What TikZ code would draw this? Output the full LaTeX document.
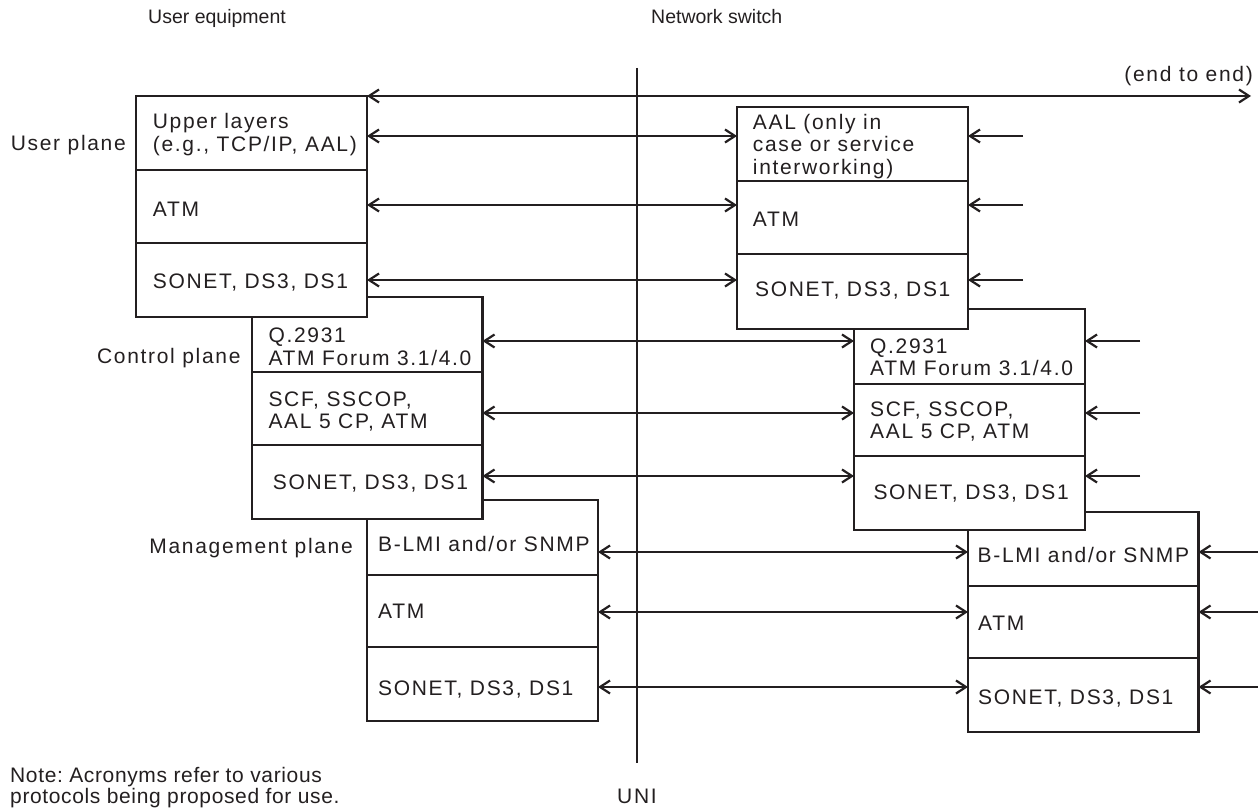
\documentclass[tikz,border=0pt]{standalone}
\usepackage{fontspec}
\setmainfont{Liberation Sans}[LetterSpace=8]
\newfontfamily\topfont{Liberation Sans}
\newfontfamily\notefont{Liberation Sans}[LetterSpace=3]
\usetikzlibrary{arrows.meta}
\definecolor{ink}{HTML}{231F20}
\newcommand{\twoline}[2]{\begin{tabular}[t]{@{}l@{}}#1\\#2\end{tabular}}
\frenchspacing
\begin{document}
\begin{tikzpicture}[x=1pt,y=-1pt,
  cell/.style={draw=ink, fill=white, line width=2.3pt, minimum width=231pt, inner sep=0pt, outer sep=0pt, anchor=north west},
  txt/.style={inner sep=0pt, anchor=base west, text=ink, font=\fontsize{21}{22.5}\selectfont},
  side/.style={inner sep=0pt, anchor=base east, text=ink, font=\fontsize{21}{22.5}\selectfont},
  toplabel/.style={inner sep=0pt, anchor=base west, text=ink, font=\topfont\fontsize{19.5}{22}\selectfont},
  notelabel/.style={inner sep=0pt, anchor=base west, text=ink, font=\notefont\fontsize{21}{21}\selectfont},
  link/.style={draw=ink, line width=2.2pt, {Straight Barb[length=10pt,width=13pt]}-{Straight Barb[length=10pt,width=13pt]}},
  feed/.style={draw=ink, line width=2.2pt, -{Straight Barb[length=10pt,width=13pt]}},
  plain/.style={draw=ink, line width=2.2pt},
]
\useasboundingbox (0,0) rectangle (1258,810);

% ---------- user equipment side (drawn bottom to top) ----------
\node[cell, minimum height=75pt] (um1) at (367,500) {};
\node[cell, minimum height=72pt] (um2) at (367,575) {};
\node[cell, minimum height=74pt] (um3) at (367,647) {};

\node[cell, minimum width=230.5pt, minimum height=75pt] (uc1) at (252,297) {};
\node[cell, minimum width=230.5pt, minimum height=73pt] (uc2) at (252,372) {};
\node[cell, minimum width=230.5pt, minimum height=74pt] (uc3) at (252,445) {};

\node[cell, minimum height=74pt] (uu1) at (136,96) {};
\node[cell, minimum height=73pt] (uu2) at (136,170) {};
\node[cell, minimum height=74pt] (uu3) at (136,243) {};

% ---------- network switch side ----------
\node[cell, minimum width=230.5pt, minimum height=74pt] (nm1) at (968,512) {};
\node[cell, minimum width=230.5pt, minimum height=72pt] (nm2) at (968,586) {};
\node[cell, minimum width=230.5pt, minimum height=74pt] (nm3) at (968,658) {};

\node[cell, minimum height=75pt] (nc1) at (854,309) {};
\node[cell, minimum height=72pt] (nc2) at (854,384) {};
\node[cell, minimum height=74pt] (nc3) at (854,456) {};

\node[cell, minimum height=74pt] (nu1) at (737,107) {};
\node[cell, minimum height=73pt] (nu2) at (737,181) {};
\node[cell, minimum height=75pt] (nu3) at (737,254) {};

% ---------- cell texts ----------
\node[txt] (tuu1) at (152.7,129) {\twoline{Upper layers}{(e.g., TCP/IP, AAL)}};
\node[txt] (tuu2) at (152.7,216.7) {ATM};
\node[txt] (tuu3) at (152.7,289) {SONET, DS3, DS1};

\node[txt] (tnu1) at (752.7,129.3) {\begin{tabular}[t]{@{}l@{}}AAL (only in\\case or service\\interworking)\end{tabular}};
\node[txt] (tnu2) at (752.7,226.7) {ATM};
\node[txt] (tnu3) at (755,296.7) {SONET, DS3, DS1};

\node[txt] (tuc1) at (268.3,342.7) {\twoline{Q.2931}{ATM Forum 3.1/4.0}};
\node[txt] (tuc2) at (268.3,406) {\twoline{SCF, SSCOP,}{AAL 5 CP, ATM}};
\node[txt] (tuc3) at (272.7,489) {SONET, DS3, DS1};

\node[txt] (tnc1) at (870,353.3) {\twoline{Q.2931}{ATM Forum 3.1/4.0}};
\node[txt] (tnc2) at (870,416) {\twoline{SCF, SSCOP,}{AAL 5 CP, ATM}};
\node[txt] (tnc3) at (873.3,499.3) {SONET, DS3, DS1};

\node[txt] (tum1) at (378,551.7) {B-LMI and/or SNMP};
\node[txt] (tum2) at (378,618.7) {ATM};
\node[txt] (tum3) at (378,695) {SONET, DS3, DS1};

\node[txt] (tnm1) at (977.5,562.7) {B-LMI and/or SNMP};
\node[txt] (tnm2) at (978,630) {ATM};
\node[txt] (tnm3) at (978,704) {SONET, DS3, DS1};

% ---------- side and top labels ----------
\node[side] (lup) at (126,150.7) {User plane};
\node[side] (lcp) at (240.7,363) {Control plane};
\node[side] (lmp) at (353,553) {Management plane};
\node[toplabel] (lue) at (148,24) {User equipment};
\node[toplabel] (lns) at (651,24) {Network switch};
\node[side] (lee) at (1253,82) {(end to end)};
\node[txt, anchor=base] (luni) at (637,803) {UNI};
\node[notelabel] (lnote) at (10,782) {\twoline{Note: Acronyms refer to various}{protocols being proposed for use.}};

% ---------- UNI line ----------
\coordinate (unitop) at (637,68);
\coordinate (unibot) at (637,763);
\draw[plain] (unitop) -- (unibot);

% ---------- level coordinates ----------
\coordinate (e2e) at (1251,96);
\coordinate (yu1) at (0,136);
\coordinate (yu2) at (0,205);
\coordinate (yu3) at (0,280);
\coordinate (yc1) at (0,341);
\coordinate (yc2) at (0,413);
\coordinate (yc3) at (0,476);
\coordinate (ym1) at (0,552);
\coordinate (ym2) at (0,612);
\coordinate (ym3) at (0,687);

% ---------- peer links ----------
\draw[link] (uu1.north east) -- (e2e);
\draw[link] (uu1.east |- yu1) -- (nu1.west |- yu1);
\draw[link] (uu2.east |- yu2) -- (nu2.west |- yu2);
\draw[link] (uu3.east |- yu3) -- (nu3.west |- yu3);
\draw[link] (uc1.east |- yc1) -- (nc1.west |- yc1);
\draw[link] (uc2.east |- yc2) -- (nc2.west |- yc2);
\draw[link] (uc3.east |- yc3) -- (nc3.west |- yc3);
\draw[link] (um1.east |- ym1) -- (nm1.west |- ym1);
\draw[link] (um2.east |- ym2) -- (nm2.west |- ym2);
\draw[link] (um3.east |- ym3) -- (nm3.west |- ym3);

% ---------- feeds from the network side ----------
\coordinate (fu1) at (1023,136);
\coordinate (fu2) at (1023,205);
\coordinate (fu3) at (1023,280);
\coordinate (fc1) at (1140,341);
\coordinate (fc2) at (1140,413);
\coordinate (fc3) at (1140,476);
\coordinate (fm1) at (1258,552);
\coordinate (fm2) at (1258,612);
\coordinate (fm3) at (1258,687);
\draw[feed] (fu1) -- (nu1.east |- fu1);
\draw[feed] (fu2) -- (nu2.east |- fu2);
\draw[feed] (fu3) -- (nu3.east |- fu3);
\draw[feed] (fc1) -- (nc1.east |- fc1);
\draw[feed] (fc2) -- (nc2.east |- fc2);
\draw[feed] (fc3) -- (nc3.east |- fc3);
\draw[feed] (fm1) -- (nm1.east |- fm1);
\draw[feed] (fm2) -- (nm2.east |- fm2);
\draw[feed] (fm3) -- (nm3.east |- fm3);
\end{tikzpicture}
\end{document}
